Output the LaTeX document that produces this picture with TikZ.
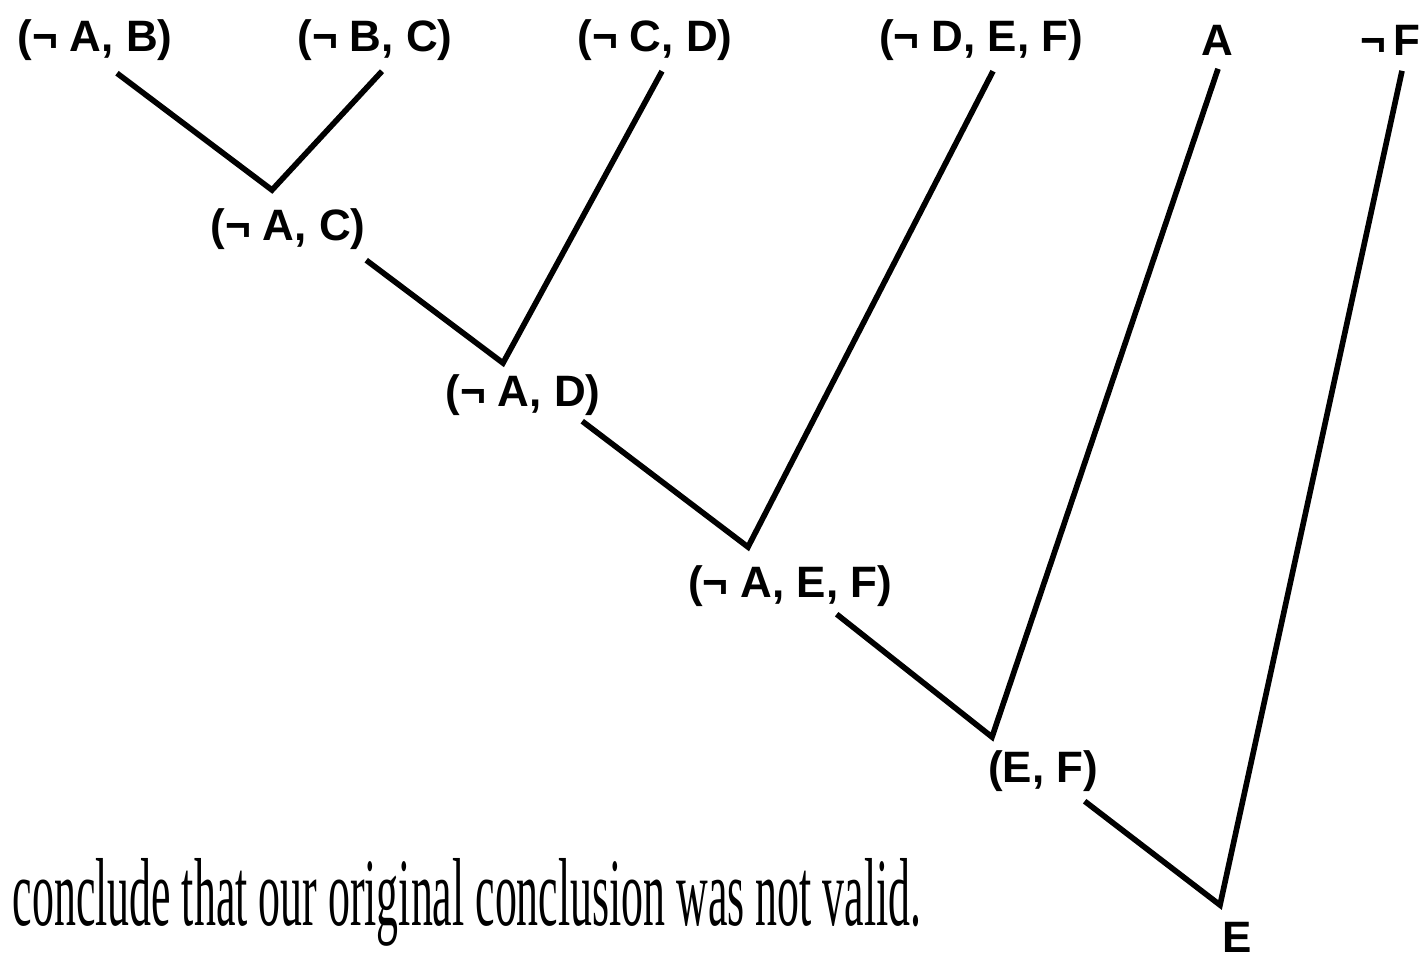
\documentclass[tikz,border=0pt]{standalone}
\usepackage{fontspec}
\usepackage{graphicx}
\usetikzlibrary{calc}
\newfontfamily\clausefont{Liberation Sans}
\newfontfamily\bookfont{Liberation Serif}

\begin{document}
\begin{tikzpicture}[
  x=0.01cm, y=-0.01cm,
  clause/.style={inner sep=0pt, font=\clausefont\bfseries\fontsize{12.5}{15}\selectfont},
  link/.style={draw, line width=1.6pt, line join=miter}
]
  \useasboundingbox (0,0) rectangle (1428,960);

  \node[clause] (ab)  at (95,40)   {(¬ A, B)};
  \node[clause] (bc)  at (375,40)  {(¬ B, C)};
  \node[clause] (cd)  at (655,40)  {(¬ C, D)};
  \node[clause] (def) at (981,40)  {(¬ D, E, F)};
  \node[clause] (a)   at (1217,40) {A};
  \node[clause] (nf)  at (1390,40) {¬\,F};

  \node[clause] (ac)  at (288,229)  {(¬ A, C)};
  \node[clause] (ad)  at (523,395)  {(¬ A, D)};
  \node[clause] (aef) at (790,586)  {(¬ A, E, F)};
  \node[clause] (ef)  at (1043,771) {(E, F)};
  \node[clause] (e)   at (1237,937) {E};

  \coordinate (r1) at (272,190);
  \coordinate (r2) at (503,363);
  \coordinate (r3) at (748,547);
  \coordinate (r4) at (992,737);
  \coordinate (r5) at (1220,905);

  \draw[link] ($(ab.south)+(22,12)$) -- (r1) -- ($(bc.south)+(7,10)$);
  \draw[link] ($(ac.south east)+(0,10)$) -- (r2) -- ($(cd.south)+(7,10)$);
  \draw[link] ($(ad.south east)+(-19,5)$) -- (r3) -- ($(def.south)+(12,10)$);
  \draw[link] ($(aef.south east)+(-56,7)$) -- (r4) -- ($(a.south)+(1,13)$);
  \draw[link] ($(ef.south east)+(-14,9)$) -- (r5) -- ($(nf.south)+(12,15)$);

  \node[anchor=base west, inner sep=0pt] (note) at (12,925)
    {\resizebox{9.08cm}{0.67cm}{\bookfont conclude that our original conclusion was not valid.}};
\end{tikzpicture}
\end{document}
